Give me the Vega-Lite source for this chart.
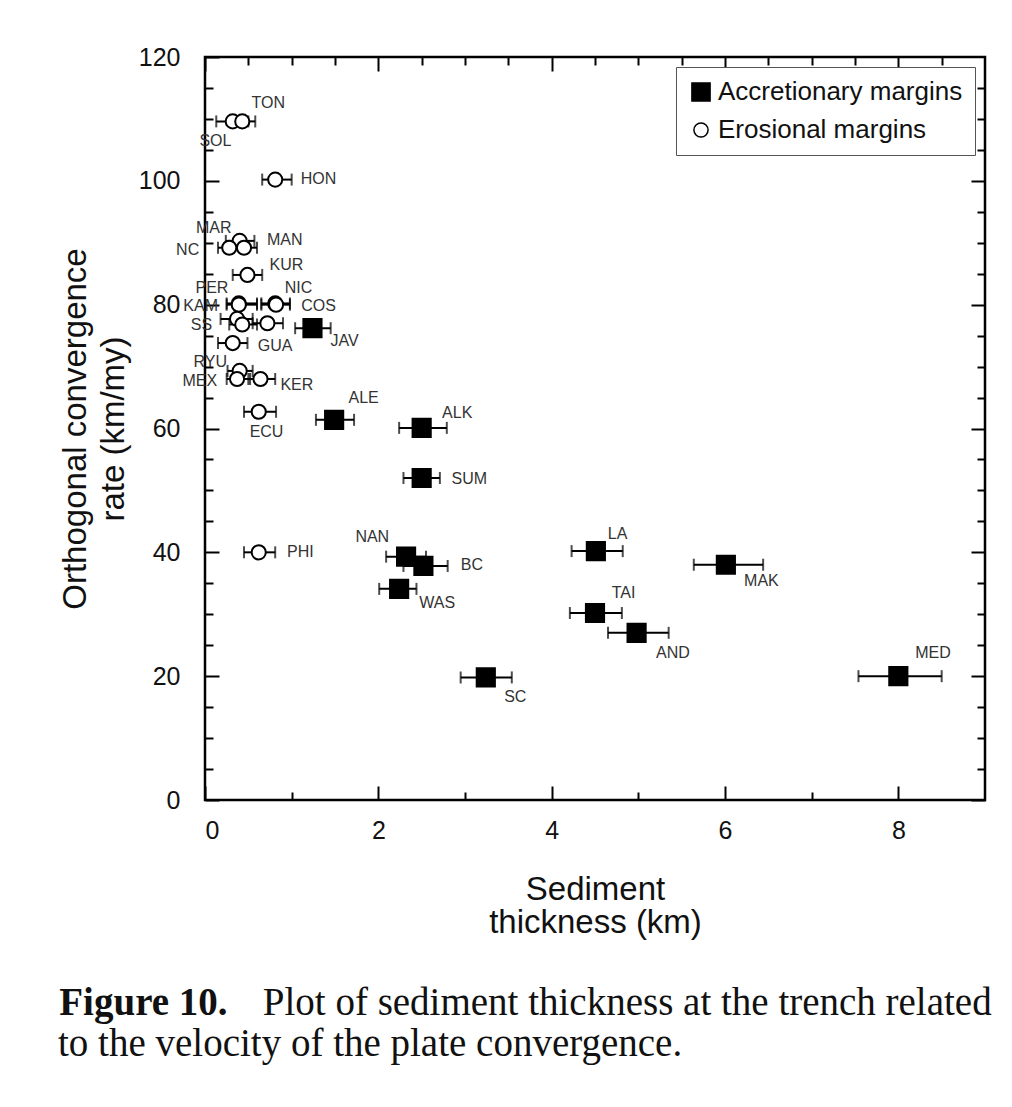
{
  "$schema": "https://vega.github.io/schema/vega-lite/v6.json",
  "autosize": {"type": "pad"},
  "padding": {"left": 58, "top": 43, "right": 26, "bottom": 30},
  "background": "white",
  "title": {
    "text": ["\u200b\u00a0\u00a0\u00a0\u00a0\u00a0\u00a0\u00a0\u00a0\u00a0\u00a0\u00a0\u00a0\u00a0\u00a0\u00a0\u00a0\u00a0\u00a0\u00a0\u00a0\u00a0Plot of sediment thickness at the trench related", "to the velocity of the plate convergence."],
    "orient": "bottom",
    "anchor": "start",
    "frame": "bounds",
    "font": "Liberation Serif",
    "fontSize": 39,
    "fontWeight": "normal",
    "color": "#111",
    "lineHeight": 41,
    "offset": 0,
    "dy": -40
  },
  "config": {
    "view": {"stroke": "black", "strokeWidth": 2.5},
    "axis": {
      "domain": false,
      "grid": false,
      "labelFont": "Liberation Sans",
      "labelFontSize": 25,
      "labelColor": "#111",
      "titleFont": "Liberation Sans",
      "titleFontSize": 33,
      "titleFontWeight": "normal",
      "titleColor": "#111",
      "tickColor": "black",
      "tickWidth": 2
    },
    "legend": {
      "labelFont": "Liberation Sans",
      "labelFontSize": 26,
      "labelColor": "#111",
      "labelLimit": 400
    }
  },
  "vconcat": [
    {
      "width": 780,
      "height": 743,
      "title": {
        "text": "Figure 10.",
        "orient": "bottom",
        "anchor": "start",
        "frame": "bounds",
        "font": "Liberation Serif",
        "fontSize": 39,
        "fontWeight": "bold",
        "color": "#111",
        "offset": 45
      },
      "data": {
        "values": [
          {"name": "SOL", "type": "Erosional margins", "x": 0.32, "y": 109.6, "lo": 0.13, "hi": 0.5, "lx": 0.12, "ly": 106.5},
          {"name": "TON", "type": "Erosional margins", "x": 0.43, "y": 109.6, "lo": 0.28, "hi": 0.58, "lx": 0.73, "ly": 112.6},
          {"name": "HON", "type": "Erosional margins", "x": 0.81, "y": 100.2, "lo": 0.66, "hi": 1.0, "lx": 1.31, "ly": 100.3},
          {"name": "MAR", "type": "Erosional margins", "x": 0.4, "y": 90.3, "lo": 0.24, "hi": 0.57, "lx": 0.1, "ly": 92.4},
          {"name": "NC", "type": "Erosional margins", "x": 0.28, "y": 89.2, "lo": 0.15, "hi": 0.42, "lx": -0.2, "ly": 88.9},
          {"name": "MAN", "type": "Erosional margins", "x": 0.45, "y": 89.2, "lo": 0.32, "hi": 0.6, "lx": 0.92, "ly": 90.5},
          {"name": "KUR", "type": "Erosional margins", "x": 0.49, "y": 84.8, "lo": 0.32, "hi": 0.66, "lx": 0.94, "ly": 86.4},
          {"name": "PER", "type": "Erosional margins", "x": 0.39, "y": 80.2, "lo": 0.25, "hi": 0.6, "lx": 0.08, "ly": 82.7},
          {"name": "KAM", "type": "Erosional margins", "x": 0.39, "y": 80.0, "lo": 0.25, "hi": 0.6, "lx": -0.05, "ly": 79.8},
          {"name": "NIC", "type": "Erosional margins", "x": 0.81, "y": 80.2, "lo": 0.65, "hi": 0.98, "lx": 1.08, "ly": 82.7},
          {"name": "COS", "type": "Erosional margins", "x": 0.82, "y": 80.0, "lo": 0.65, "hi": 0.98, "lx": 1.31, "ly": 79.8},
          {"name": "SS", "type": "Erosional margins", "x": 0.37, "y": 77.7, "lo": 0.18, "hi": 0.55, "lx": -0.04, "ly": 76.7},
          {"name": "", "type": "Erosional margins", "x": 0.43, "y": 76.8, "lo": 0.28, "hi": 0.6, "lx": 0.43, "ly": 76.8},
          {"name": "", "type": "Erosional margins", "x": 0.72, "y": 77.0, "lo": 0.55, "hi": 0.9, "lx": 0.72, "ly": 77.0},
          {"name": "GUA", "type": "Erosional margins", "x": 0.32, "y": 73.8, "lo": 0.15, "hi": 0.49, "lx": 0.81, "ly": 73.3},
          {"name": "RYU", "type": "Erosional margins", "x": 0.4, "y": 69.3, "lo": 0.26, "hi": 0.55, "lx": 0.06, "ly": 70.8},
          {"name": "MEX", "type": "Erosional margins", "x": 0.37, "y": 68.0, "lo": 0.25, "hi": 0.52, "lx": -0.06, "ly": 67.7},
          {"name": "KER", "type": "Erosional margins", "x": 0.64, "y": 68.0, "lo": 0.5, "hi": 0.81, "lx": 1.06, "ly": 67.0},
          {"name": "ECU", "type": "Erosional margins", "x": 0.62, "y": 62.7, "lo": 0.45, "hi": 0.82, "lx": 0.71, "ly": 59.5},
          {"name": "PHI", "type": "Erosional margins", "x": 0.62, "y": 40.0, "lo": 0.45, "hi": 0.81, "lx": 1.1, "ly": 40.1},
          {"name": "JAV", "type": "Accretionary margins", "x": 1.24, "y": 76.2, "lo": 1.04, "hi": 1.45, "lx": 1.61, "ly": 74.2},
          {"name": "ALE", "type": "Accretionary margins", "x": 1.49, "y": 61.4, "lo": 1.28, "hi": 1.72, "lx": 1.83, "ly": 64.9},
          {"name": "ALK", "type": "Accretionary margins", "x": 2.5, "y": 60.1, "lo": 2.24, "hi": 2.79, "lx": 2.91, "ly": 62.5},
          {"name": "SUM", "type": "Accretionary margins", "x": 2.5, "y": 52.0, "lo": 2.29, "hi": 2.71, "lx": 3.05, "ly": 51.9},
          {"name": "NAN", "type": "Accretionary margins", "x": 2.32, "y": 39.3, "lo": 2.09, "hi": 2.55, "lx": 1.93, "ly": 42.5},
          {"name": "BC", "type": "Accretionary margins", "x": 2.52, "y": 37.8, "lo": 2.29, "hi": 2.8, "lx": 3.08, "ly": 38.0},
          {"name": "WAS", "type": "Accretionary margins", "x": 2.24, "y": 34.1, "lo": 2.01, "hi": 2.44, "lx": 2.68, "ly": 31.8},
          {"name": "SC", "type": "Accretionary margins", "x": 3.24, "y": 19.8, "lo": 2.95, "hi": 3.54, "lx": 3.58, "ly": 16.6},
          {"name": "LA", "type": "Accretionary margins", "x": 4.51, "y": 40.2, "lo": 4.23, "hi": 4.82, "lx": 4.76, "ly": 43.0},
          {"name": "TAI", "type": "Accretionary margins", "x": 4.5, "y": 30.2, "lo": 4.21, "hi": 4.81, "lx": 4.83, "ly": 33.4},
          {"name": "AND", "type": "Accretionary margins", "x": 4.98, "y": 27.0, "lo": 4.65, "hi": 5.35, "lx": 5.4, "ly": 23.7},
          {"name": "MAK", "type": "Accretionary margins", "x": 6.01, "y": 38.0, "lo": 5.64, "hi": 6.44, "lx": 6.42, "ly": 35.4},
          {"name": "MED", "type": "Accretionary margins", "x": 8.0, "y": 20.0, "lo": 7.54, "hi": 8.5, "lx": 8.4, "ly": 23.7}
        ]
      },
      "layer": [
        {
          "mark": {"type": "rule", "color": "black", "strokeWidth": 2},
          "encoding": {
            "x": {"field": "lo", "type": "quantitative", "axis": null, "scale": {"domain": [0, 9], "nice": false, "zero": false}},
            "x2": {"field": "hi"},
            "y": {"field": "y", "type": "quantitative", "axis": null, "scale": {"domain": [0, 120], "nice": false}}
          }
        },
        {
          "mark": {"type": "tick", "orient": "vertical", "color": "black", "size": 12, "thickness": 2},
          "encoding": {
            "x": {"field": "lo", "type": "quantitative", "axis": null},
            "y": {"field": "y", "type": "quantitative", "axis": null}
          }
        },
        {
          "mark": {"type": "tick", "orient": "vertical", "color": "black", "size": 12, "thickness": 2},
          "encoding": {
            "x": {"field": "hi", "type": "quantitative", "axis": null},
            "y": {"field": "y", "type": "quantitative", "axis": null}
          }
        },
        {
          "mark": {"type": "point", "filled": true, "stroke": "black", "strokeWidth": 2, "opacity": 1},
          "encoding": {
            "x": {
              "field": "x", "type": "quantitative",
              "axis": {
                "orient": "bottom",
                "values": [0, 0.5, 1, 1.5, 2, 2.5, 3, 3.5, 4, 4.5, 5, 5.5, 6, 6.5, 7, 7.5, 8, 8.5],
                "format": "d",
                "labelExpr": "datum.value % 2 === 0 ? datum.label : ''",
                "tickSize": {"condition": {"test": "datum.value % 2 === 0", "value": -14}, "value": -8},
                "labelPadding": 32,
                "title": ["Sediment", "thickness (km)"],
                "titleLineHeight": 33,
                "titlePadding": 30
              }
            },
            "y": {
              "field": "y", "type": "quantitative",
              "axis": {
                "orient": "left",
                "values": [0, 5, 10, 15, 20, 25, 30, 35, 40, 45, 50, 55, 60, 65, 70, 75, 80, 85, 90, 95, 100, 105, 110, 115, 120],
                "format": "d",
                "labelExpr": "datum.value % 20 === 0 ? datum.label : ''",
                "tickSize": {"condition": {"test": "datum.value % 20 === 0", "value": -14}, "value": -8},
                "labelPadding": 39,
                "title": ["Orthogonal convergence", "rate (km/my)"],
                "titleLineHeight": 38,
                "titlePadding": 8
              }
            },
            "shape": {
              "field": "type", "type": "nominal",
              "scale": {"domain": ["Accretionary margins", "Erosional margins"], "range": ["square", "circle"]},
              "legend": {
                "title": null,
                "orient": "top-right",
                "offset": 10,
                "padding": 12,
                "strokeColor": "#555",
                "fillColor": "white",
                "rowPadding": 12,
                "labelOffset": 4,
                "encode": {"symbols": {"update": {"stroke": {"value": "black"}, "strokeWidth": {"value": 2}, "size": {"value": 180}}}}
              }
            },
            "fill": {
              "field": "type", "type": "nominal",
              "scale": {"domain": ["Accretionary margins", "Erosional margins"], "range": ["black", "white"]},
              "legend": {
                "title": null,
                "orient": "top-right",
                "offset": 10,
                "padding": 12,
                "strokeColor": "#555",
                "fillColor": "white",
                "rowPadding": 12,
                "labelOffset": 4,
                "encode": {"symbols": {"update": {"stroke": {"value": "black"}, "strokeWidth": {"value": 2}, "size": {"value": 180}}}}
              }
            },
            "size": {
              "field": "type", "type": "nominal",
              "scale": {"domain": ["Accretionary margins", "Erosional margins"], "range": [330, 200]},
              "legend": {
                "title": null,
                "orient": "top-right",
                "offset": 10,
                "padding": 12,
                "strokeColor": "#555",
                "fillColor": "white",
                "rowPadding": 12,
                "labelOffset": 4,
                "encode": {"symbols": {"update": {"stroke": {"value": "black"}, "strokeWidth": {"value": 2}, "size": {"value": 180}}}}
              }
            }
          }
        },
        {
          "mark": {"type": "text", "font": "Liberation Sans", "fontSize": 16, "color": "#333", "align": "center", "baseline": "middle"},
          "encoding": {
            "x": {
              "field": "lx", "type": "quantitative",
              "axis": {
                "orient": "top",
                "values": [0, 0.5, 1, 1.5, 2, 2.5, 3, 3.5, 4, 4.5, 5, 5.5, 6, 6.5, 7, 7.5, 8, 8.5],
                "labels": false,
                "title": null,
                "tickSize": {"condition": {"test": "datum.value % 2 === 0", "value": -14}, "value": -8}
              }
            },
            "y": {
              "field": "ly", "type": "quantitative",
              "axis": {
                "orient": "right",
                "values": [0, 5, 10, 15, 20, 25, 30, 35, 40, 45, 50, 55, 60, 65, 70, 75, 80, 85, 90, 95, 100, 105, 110, 115],
                "labels": false,
                "title": null,
                "tickSize": {"condition": {"test": "datum.value % 20 === 0", "value": -14}, "value": -8}
              }
            },
            "text": {"field": "name", "type": "nominal"}
          }
        }
      ]
    }
  ]
}
